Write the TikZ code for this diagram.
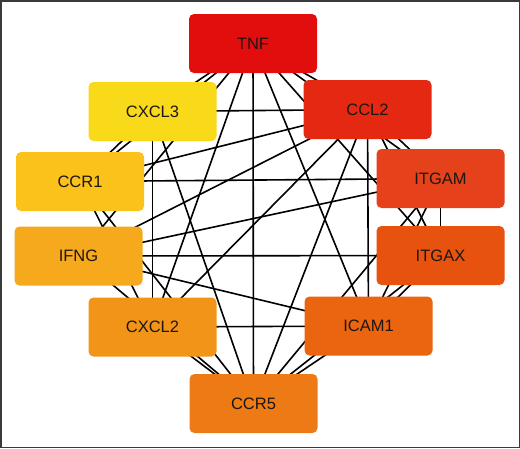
\documentclass[tikz,border=0pt]{standalone}
\usepackage{fontspec}
\setmainfont{Liberation Sans}
\usetikzlibrary{backgrounds}
\definecolor{cTNF}{HTML}{E20D0D}
\definecolor{cCXCLiii}{HTML}{F9DA1B}
\definecolor{cCCLii}{HTML}{E42812}
\definecolor{cCCRi}{HTML}{FBC21C}
\definecolor{cITGAM}{HTML}{E5411A}
\definecolor{cIFNG}{HTML}{F6A91D}
\definecolor{cITGAX}{HTML}{E7520F}
\definecolor{cCXCLii}{HTML}{F29418}
\definecolor{cICAMi}{HTML}{EB6510}
\definecolor{cCCRv}{HTML}{EE7A15}
\definecolor{txt}{HTML}{1E1612}
\definecolor{frame}{HTML}{3A3A3A}
\begin{document}
\begin{tikzpicture}[x=1pt,y=-1pt,
  gene/.style={rounded corners=5pt, minimum width=128pt, minimum height=59pt,
    inner sep=0pt, font=\fontsize{16.5}{18}\selectfont, text=txt},
  link/.style={line width=1.6pt, black}]
\useasboundingbox (0,0) rectangle (520,448);
\node[gene, fill=cTNF]     (TNF)   at (253,43.5)  {TNF};
\node[gene, fill=cCXCLiii] (CXCL3) at (152.5,111.5) {CXCL3};
\node[gene, fill=cCCLii]   (CCL2)  at (367.5,109.5) {CCL2};
\node[gene, fill=cCCRi]    (CCR1)  at (80,181.5)  {CCR1};
\node[gene, fill=cITGAM]   (ITGAM) at (440.5,178.5) {ITGAM};
\node[gene, fill=cIFNG]    (IFNG)  at (78.5,256)  {IFNG};
\node[gene, fill=cITGAX]   (ITGAX) at (440.5,255.5) {ITGAX};
\node[gene, fill=cCXCLii]  (CXCL2) at (152.5,327) {CXCL2};
\node[gene, fill=cICAMi]   (ICAM1) at (368.5,326) {ICAM1};
\node[gene, fill=cCCRv]    (CCR5)  at (253.5,403.5) {CCR5};
\begin{scope}[on background layer]
\draw[frame, line width=1.5pt, fill=white] (0.75,0.75) rectangle (519.25,447.25);
\foreach \a/\b in {TNF/CXCL3, TNF/CCL2, TNF/CCR1, TNF/ITGAM, TNF/IFNG, TNF/ITGAX,
  TNF/CXCL2, TNF/ICAM1, TNF/CCR5,
  CCR5/CXCL3, CCR5/CCL2, CCR5/CCR1, CCR5/ITGAM, CCR5/IFNG, CCR5/ITGAX, CCR5/CXCL2, CCR5/ICAM1,
  CCL2/CXCL3, CCL2/CCR1, CCL2/IFNG, CCL2/CXCL2, CCL2/ICAM1, CCL2/ITGAX, CCL2/ITGAM,
  CXCL3/CCR1, CXCL3/CXCL2,
  CCR1/ITGAM, CCR1/CXCL2,
  IFNG/ITGAX, IFNG/ITGAM, IFNG/ICAM1,
  ITGAM/ITGAX, ITGAM/ICAM1,
  ITGAX/ICAM1, CXCL2/ICAM1}
  \draw[link] (\a.center) -- (\b.center);
\end{scope}
\end{tikzpicture}
\end{document}
